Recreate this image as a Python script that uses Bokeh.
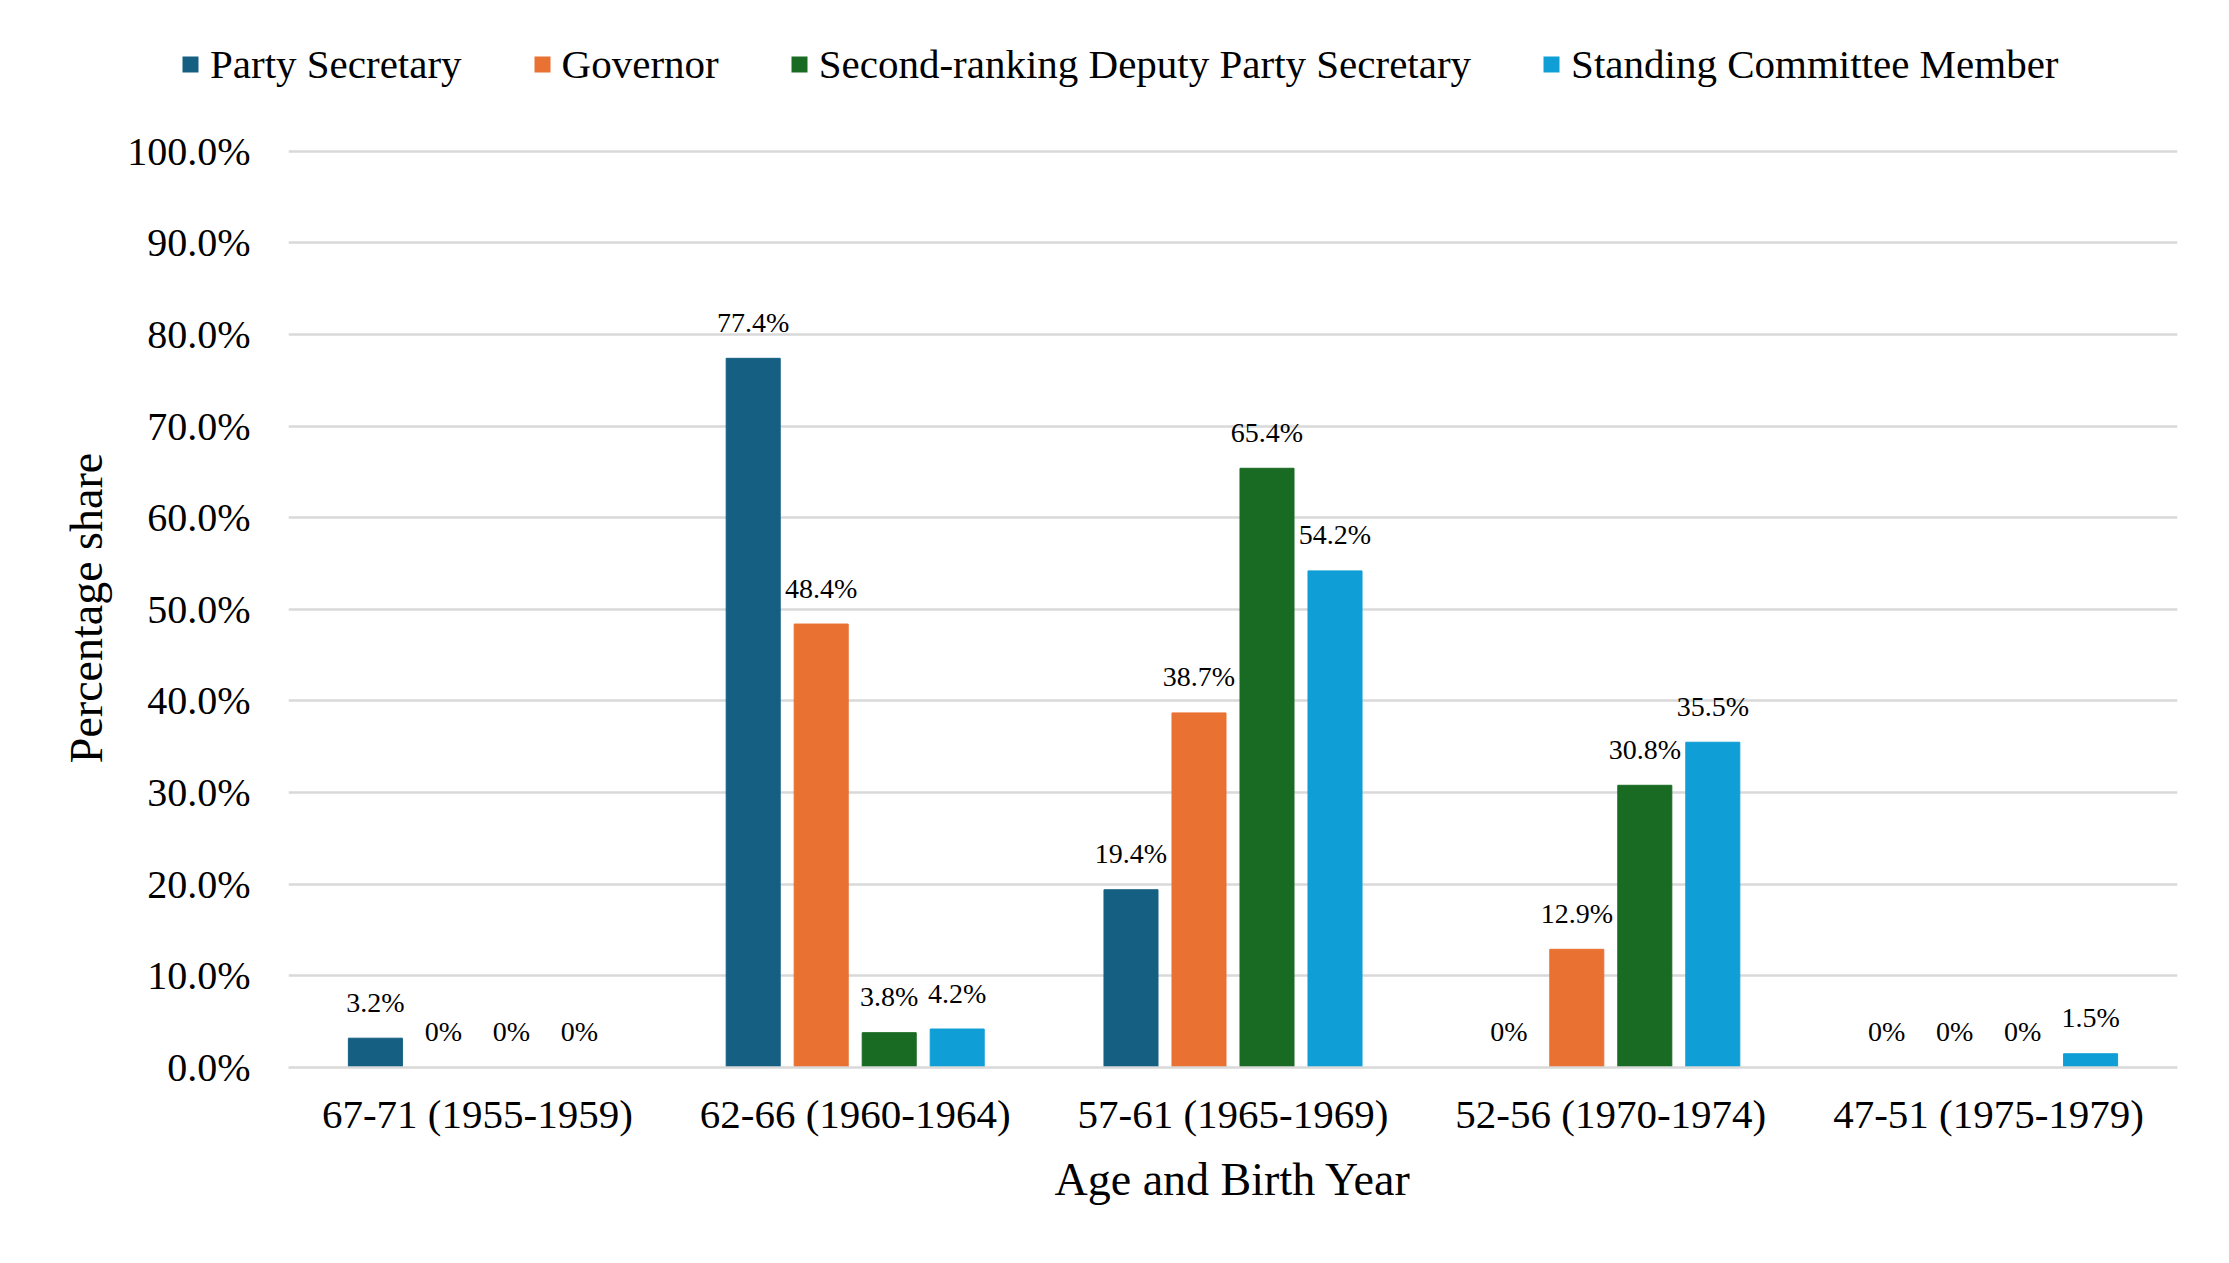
from bokeh.plotting import figure
from bokeh.layouts import column
from bokeh.models import (ColumnDataSource, Legend, LegendItem, PrintfTickFormatter,
                          FixedTicker, Range1d)
from bokeh.transform import dodge
from bokeh.core.properties import value
from bokeh.embed import file_html
from bokeh.resources import INLINE

categories = ["67-71 (1955-1959)", "62-66 (1960-1964)", "57-61 (1965-1969)",
              "52-56 (1970-1974)", "47-51 (1975-1979)"]
series_names = ["Party Secretary", "Governor", "Second-ranking Deputy Party Secretary",
                "Standing Committee Member"]
party_secretary = [3.2, 77.4, 19.4, 0.0, 0.0]
governor = [0.0, 48.4, 38.7, 12.9, 0.0]
second_deputy = [0.0, 3.8, 65.4, 30.8, 0.0]
standing_committee = [0.0, 4.2, 54.2, 35.5, 1.5]
y_ticks = [0, 10, 20, 30, 40, 50, 60, 70, 80, 90, 100]

colors = ["#156082", "#E97132", "#196B24", "#0F9ED5"]
offsets = [-0.27, -0.09, 0.09, 0.27]
FONT = "Liberation Serif"
W = 2213
LEG_H = 100
MAIN_H = 1147

# ---- main chart ----
p = figure(x_range=categories, y_range=(0, 100.3), width=W, height=MAIN_H,
           output_backend="svg", toolbar_location=None, title=None,
           min_border_left=288, min_border_right=36, min_border_top=48,
           min_border_bottom=180)
p.frame_align = False
p.outline_line_color = None
p.background_fill_color = "white"
p.border_fill_color = "white"

# ---- legend strip (its proxy renderers have zero width and are off-range) ----
pl = figure(width=W, height=LEG_H, output_backend="svg", toolbar_location=None,
            x_range=p.x_range, y_range=Range1d(1000, 1010), x_axis_type=None,
            y_axis_type=None, min_border=0, title=None)
pl.frame_align = False
pl.outline_line_color = None
pl.xgrid.grid_line_color = None
pl.ygrid.grid_line_color = None
pl.border_fill_color = "white"

leg_items = []
for name, vals, col, off in zip(series_names,
                                [party_secretary, governor, second_deputy, standing_committee],
                                colors, offsets):
    src = ColumnDataSource(dict(cat=categories, val=vals,
                                lab=[("%.1f%%" % v) if v else "0%" for v in vals]))
    p.vbar(x=dodge("cat", off, range=p.x_range), top="val", width=0.143, source=src,
           fill_color=col, line_color=col)
    p.text(x=dodge("cat", off, range=p.x_range), y="val", text="lab", source=src,
           text_font=value(FONT), text_font_size="28px", text_color="#000000",
           text_align="center", text_baseline="middle", y_offset=-36)
    rl = pl.vbar(x=dodge("cat", off, range=p.x_range), top="val", width=0, source=src,
                 fill_color=col, line_color=None)
    leg_items.append(LegendItem(label=name, renderers=[rl]))

legend = Legend(items=leg_items, orientation="horizontal", location=(180, 12),
                label_text_font=FONT, label_text_font_size="41px", label_text_color="#000000",
                glyph_width=20, glyph_height=20, label_standoff=10, spacing=70,
                padding=0, margin=0, border_line_color=None, background_fill_alpha=0)
pl.add_layout(legend, "center")

p.ygrid.grid_line_color = "#d9d9d9"
p.ygrid.grid_line_width = 2.5
p.xgrid.grid_line_color = None

p.yaxis.ticker = FixedTicker(ticks=y_ticks)
p.yaxis.formatter = PrintfTickFormatter(format="%.1f%%")
p.yaxis.axis_line_color = None
p.yaxis.major_tick_line_color = None
p.yaxis.minor_tick_line_color = None
p.yaxis.major_tick_out = 0
p.yaxis.major_label_standoff = 38
p.yaxis.major_label_text_font = FONT
p.yaxis.major_label_text_font_size = "40px"
p.yaxis.major_label_text_color = "#000000"
p.yaxis.axis_label = "Percentage share"
p.yaxis.axis_label_text_font = FONT
p.yaxis.axis_label_text_font_size = "46px"
p.yaxis.axis_label_text_font_style = "normal"
p.yaxis.axis_label_text_color = "#000000"
p.yaxis.axis_label_standoff = 12

p.xaxis.axis_line_color = "#d9d9d9"
p.xaxis.axis_line_width = 2.5
p.xaxis.major_tick_line_color = None
p.xaxis.minor_tick_line_color = None
p.xaxis.major_tick_out = 0
p.xaxis.major_label_standoff = 23
p.xaxis.major_label_text_font = FONT
p.xaxis.major_label_text_font_size = "41px"
p.xaxis.major_label_text_color = "#000000"
p.xaxis.axis_label = "Age and Birth Year"
p.xaxis.axis_label_text_font = FONT
p.xaxis.axis_label_text_font_size = "46px"
p.xaxis.axis_label_text_font_style = "normal"
p.xaxis.axis_label_text_color = "#000000"
p.xaxis.axis_label_standoff = 14

layout = column(pl, p, spacing=0)
open("out.html", "w").write(file_html(layout, INLINE))
